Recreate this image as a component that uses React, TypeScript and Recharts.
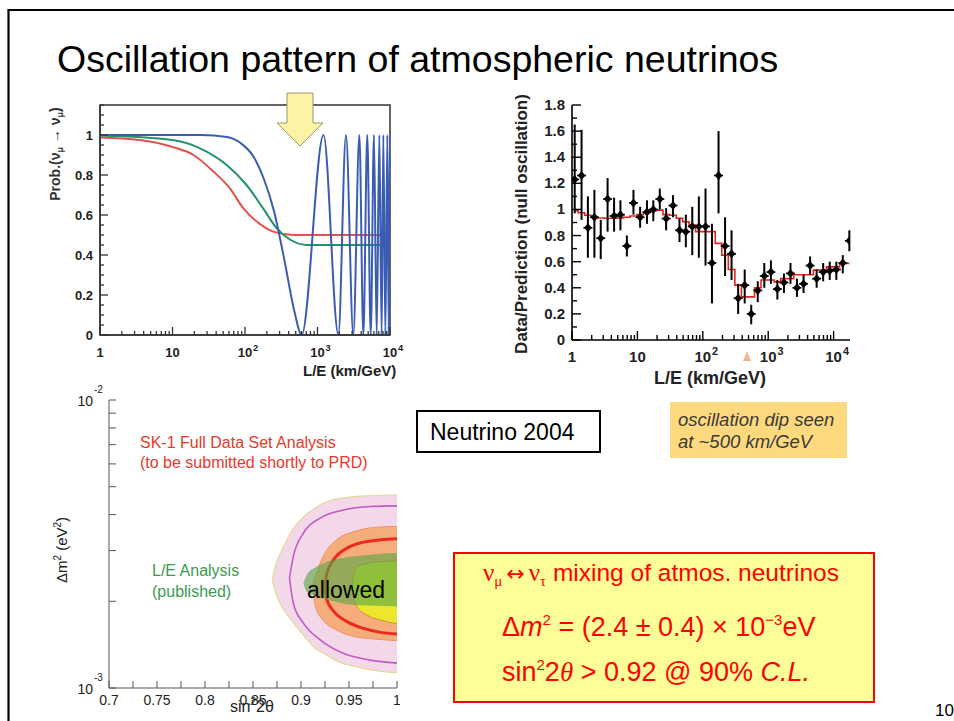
import React from "react";
import {
  Area,
  ComposedChart,
  ErrorBar,
  Line,
  ReferenceArea,
  Scatter,
  XAxis,
  YAxis,
} from "recharts";

const FONT = '"Liberation Sans", Arial, Helvetica, sans-serif';
const SERIF = '"Liberation Serif", "Times New Roman", serif';

// ---------- shared log ticks ----------
const decades = [1, 10, 100, 1000, 10000];
const decadeLabels = ["1", "10", "10^2", "10^3", "10^4"];
const minorSteps = [2, 3, 4, 5, 6, 7, 8, 9];
const logTicks = (max: number) =>
  decades
    .flatMap((d) => [d, ...minorSteps.map((m) => m * d)])
    .filter((v) => v <= max);

// ---------- panel 1: survival probability vs L/E ----------
// [L/E, probability]
const probRed: [number, number][] = [
  [1, 0.987], [3.5, 0.975], [10, 0.94], [19.5, 0.9], [36, 0.82], [62, 0.733],
  [95, 0.633], [145, 0.567], [245, 0.517], [470, 0.5], [1500, 0.5], [10000, 0.5],
];
const probGreen: [number, number][] = [
  [1, 0.997], [10, 0.975], [29.5, 0.917], [56, 0.85], [105, 0.75], [178, 0.633],
  [275, 0.533], [427, 0.475], [724, 0.45], [2000, 0.45], [10000, 0.45],
];
const probBlue: [number, number][] = [
  [1, 1], [25, 1], [56, 0.99], [87, 0.96], [132, 0.89], [182, 0.78], [251, 0.62],
  [347, 0.38], [479, 0.12], [605, 0], [1210, 1], [1940, 0], [2470, 1], [3120, 0],
  [3780, 1], [4290, 0], [4860, 1], [5420, 0], [6010, 1], [6550, 0], [7130, 1],
  [7670, 0], [8090, 1], [8630, 0], [9190, 1], [9600, 0], [10000, 1],
];
const probMajorY = [0, 0.2, 0.4, 0.6, 0.8, 1];
const probLabelsY = ["0", "0.2", "0.4", "0.6", "0.8", "1"];
const probTicksY = Array.from({ length: 24 }, (_, i) => i * 0.05);

// ---------- panel 2: data / prediction ----------
const binLE = [
  1.1, 1.4, 1.75, 2.2, 2.75, 3.5, 4.4, 5.5, 6.9, 8.7, 11, 14, 17.5, 22, 27.5,
  35, 44, 55, 69, 87, 110, 138, 174, 219, 275, 347, 437, 550, 692, 871, 1100,
  1380, 1740, 2190, 2750, 3470, 4370, 5500, 6920, 8710, 11000, 13800, 17400,
];
const ratio = [
  1.23, 1.26, 0.86, 0.94, 0.78, 1.08, 0.95, 0.96, 0.72, 1.05, 0.94, 0.98, 1.0,
  1.08, 0.93, 1.03, 0.84, 0.83, 0.87, 0.87, 0.87, 0.59, 1.26, 0.72, 0.66, 0.32,
  0.42, 0.2, 0.38, 0.49, 0.52, 0.39, 0.44, 0.51, 0.4, 0.43, 0.57, 0.47, 0.52,
  0.53, 0.54, 0.59, 0.76,
];
const ratioLo = [
  0.97, 0.92, 0.63, 0.63, 0.62, 0.83, 0.83, 0.84, 0.64, 0.96, 0.86, 0.89, 0.91,
  1.0, 0.84, 0.94, 0.75, 0.71, 0.65, 0.63, 0.57, 0.28, 0.97, 0.49, 0.46, 0.2,
  0.28, 0.12, 0.29, 0.4, 0.43, 0.31, 0.36, 0.43, 0.33, 0.36, 0.5, 0.4, 0.45,
  0.46, 0.46, 0.51, 0.68,
];
const ratioHi = [
  1.65, 1.61, 1.1, 1.15, 0.92, 1.24, 1.09, 1.07, 0.8, 1.15, 1.02, 1.07, 1.07,
  1.16, 1.01, 1.11, 0.93, 0.96, 1.02, 1.1, 1.16, 0.89, 1.6, 0.94, 0.84, 0.43,
  0.54, 0.27, 0.45, 0.59, 0.61, 0.46, 0.51, 0.59, 0.47, 0.5, 0.64, 0.54, 0.59,
  0.6, 0.6, 0.65, 0.84,
];
const prediction = [
  0.99, 0.975, 0.955, 0.94, 0.935, 0.932, 0.932, 0.935, 0.94, 0.95, 0.96, 0.975,
  0.99, 0.995, 0.96, 0.955, 0.932, 0.906, 0.88, 0.83, 0.83, 0.83, 0.74, 0.65,
  0.54, 0.42, 0.33, 0.33, 0.4, 0.46, 0.46, 0.445, 0.47, 0.47, 0.5, 0.5, 0.5,
  0.535, 0.535, 0.56, 0.56, 0.587, 0.587,
];
const ratioMajorY = [0, 0.2, 0.4, 0.6, 0.8, 1, 1.2, 1.4, 1.6, 1.8];
const ratioLabelsY = ["0", "0.2", "0.4", "0.6", "0.8", "1", "1.2", "1.4", "1.6", "1.8"];
const ratioTicksY = Array.from({ length: 19 }, (_, i) => i * 0.1);
const ratioMaxLE = 17800;

const ratioRows = binLE.map((le, i) => ({
  le,
  ratio: ratio[i],
  err: [ratio[i] - ratioLo[i], ratioHi[i] - ratio[i]],
  pred: prediction[i],
}));

// ---------- panel 3: allowed region (dm2 in 1e-3 eV^2) ----------
const pinkX = [0.87, 0.874, 0.88, 0.89, 0.903, 0.915, 0.927, 0.94, 0.955, 0.97, 0.985, 1.0];
const pinkLo = [2.36, 2.12, 1.92, 1.72, 1.52, 1.37, 1.3, 1.23, 1.19, 1.16, 1.14, 1.13];
const pinkHi = [2.36, 2.7, 3.0, 3.5, 3.94, 4.22, 4.44, 4.55, 4.62, 4.65, 4.67, 4.68];

const magentaX = [0.888, 0.892, 0.9025, 0.92, 0.944, 0.972, 1.0];
const magentaLo = [2.41, 1.97, 1.68, 1.47, 1.32, 1.25, 1.22];
const magentaHi = [2.41, 2.86, 3.45, 3.89, 4.15, 4.27, 4.29];

const orangeX = [0.912, 0.915, 0.923, 0.937, 0.955, 0.976, 1.0];
const orangeLo = [2.25, 1.92, 1.72, 1.59, 1.51, 1.48, 1.46];
const orangeHi = [2.25, 2.44, 2.86, 3.27, 3.49, 3.61, 3.64];

const redX = [0.925, 0.927, 0.934, 0.948, 0.965, 0.983, 1.0];
const redLo = [2.25, 2.02, 1.85, 1.7, 1.61, 1.56, 1.54];
const redHi = [2.25, 2.51, 2.79, 3.06, 3.21, 3.27, 3.3];

const yellowX = [0.953, 0.958, 0.969, 0.983, 1.0];
const yellowLo = [2.25, 1.92, 1.79, 1.72, 1.67];
const yellowHi = [2.25, 2.64, 2.71, 2.75, 2.76];

const greenX = [0.9025, 0.906, 0.9165, 0.934, 0.955, 0.979, 1.0];
const greenLo = [2.31, 2.16, 2.08, 2.0, 1.94, 1.93, 1.92];
const greenHi = [2.31, 2.47, 2.64, 2.79, 2.86, 2.92, 2.94];

const mixTicksX = [0.7, 0.725, 0.75, 0.775, 0.8, 0.825, 0.85, 0.875, 0.9, 0.925, 0.95, 0.975, 1.0];
const mixMajorX = [0.7, 0.75, 0.8, 0.85, 0.9, 0.95, 1.0];
const mixLabelsX = ["0.7", "0.75", "0.8", "0.85", "0.9", "0.95", "1"];
const dmTicks = [0.001, 0.002, 0.003, 0.004, 0.005, 0.006, 0.007, 0.008, 0.009, 0.01];
const dmMajor = [0.001, 0.01];
const dmLabels = ["-3", "-2"];

const toPoints = (pts: [number, number][]) => pts.map(([x, p]) => ({ x, p }));
const toBand = (xs: number[], lo: number[], hi: number[]) =>
  xs.map((x, i) => ({ x, band: [lo[i] * 1e-3, hi[i] * 1e-3] }));

const near = (list: number[], v: number) =>
  list.findIndex((m) => Math.abs(m - v) <= Math.abs(m) * 1e-6 + 1e-9);

// ---------- tick renderers ----------
function PowLabel({ x, y, text, size, bold }: { x: number; y: number; text: string; size: number; bold?: boolean }) {
  const [base, exp] = text.split("^");
  const common = { fontFamily: FONT, fontWeight: bold ? 700 : 400, fill: "#222" };
  if (!exp) {
    return (
      <text x={x} y={y} textAnchor="middle" fontSize={size} {...common}>
        {base}
      </text>
    );
  }
  return (
    <g>
      <text x={x} y={y} textAnchor="middle" fontSize={size} {...common}>
        {base}
      </text>
      <text x={x + size * 0.62} y={y - size * 0.45} fontSize={size * 0.72} {...common}>
        {exp}
      </text>
    </g>
  );
}

const probXTick = (p: any) => {
  const { x, y, payload } = p;
  const i = decades.indexOf(payload.value);
  return (
    <g>
      <line x1={x} x2={x} y1={y} y2={y - (i >= 0 ? 8 : 4)} stroke="#333" strokeWidth={1.3} />
      {i >= 0 && <PowLabel x={x} y={y + 22} text={decadeLabels[i]} size={13} bold />}
    </g>
  );
};

const probYTick = (p: any) => {
  const { x, y, payload } = p;
  const i = near(probMajorY, payload.value);
  return (
    <g>
      <line x1={x} x2={x + (i >= 0 ? 8 : 4)} y1={y} y2={y} stroke="#333" strokeWidth={1.3} />
      {i >= 0 && (
        <text x={x - 7} y={y + 4.5} textAnchor="end" fontSize={13} fontWeight={700} fontFamily={FONT} fill="#222">
          {probLabelsY[i]}
        </text>
      )}
    </g>
  );
};

const ratioXTick = (p: any) => {
  const { x, y, payload } = p;
  const i = decades.indexOf(payload.value);
  return (
    <g>
      <line x1={x} x2={x} y1={y} y2={y - (i >= 0 ? 9 : 5)} stroke="#000" strokeWidth={1.4} />
      {i >= 0 && <PowLabel x={x} y={y + 22} text={decadeLabels[i]} size={15} bold />}
    </g>
  );
};

const ratioTopTick = (p: any) => {
  const { x, y, payload } = p;
  const i = decades.indexOf(payload.value);
  return <line x1={x} x2={x} y1={y} y2={y + (i >= 0 ? 9 : 5)} stroke="#000" strokeWidth={1.4} />;
};

const ratioYTick = (p: any) => {
  const { x, y, payload } = p;
  const i = near(ratioMajorY, payload.value);
  return (
    <g>
      <line x1={x} x2={x + (i >= 0 ? 9 : 5)} y1={y} y2={y} stroke="#000" strokeWidth={1.4} />
      {i >= 0 && (
        <text x={x - 7} y={y + 5} textAnchor="end" fontSize={15} fontWeight={700} fontFamily={FONT} fill="#222">
          {ratioLabelsY[i]}
        </text>
      )}
    </g>
  );
};

const ratioRightTick = (p: any) => {
  const { x, y, payload } = p;
  const i = near(ratioMajorY, payload.value);
  return <line x1={x} x2={x - (i >= 0 ? 9 : 5)} y1={y} y2={y} stroke="#000" strokeWidth={1.4} />;
};

const mixXTick = (p: any) => {
  const { x, y, payload } = p;
  const i = near(mixMajorX, payload.value);
  return (
    <g>
      <line x1={x} x2={x} y1={y} y2={y - 7} stroke="#555" strokeWidth={1} />
      {i >= 0 && (
        <text x={x} y={y + 17} textAnchor="middle" fontSize={14} fontFamily={FONT} fill="#222">
          {mixLabelsX[i]}
        </text>
      )}
    </g>
  );
};

const dmYTick = (p: any) => {
  const { x, y, payload } = p;
  const i = near(dmMajor, payload.value);
  return (
    <g>
      <line x1={x} x2={x + 7} y1={y} y2={y} stroke="#555" strokeWidth={1} />
      {i >= 0 && (
        <g fontFamily={FONT} fill="#222">
          <text x={x - 16} y={y + 6} textAnchor="end" fontSize={14}>10</text>
          <text x={x - 15} y={y - 7} fontSize={10}>{dmLabels[i]}</text>
        </g>
      )}
    </g>
  );
};

const dmRightTick = (p: any) => {
  const { x, y } = p;
  return <line x1={x} x2={x - 4} y1={y} y2={y} stroke="#555" strokeWidth={1} />;
};

const Diamond = (p: any) => {
  const { cx, cy } = p;
  if (cx == null || cy == null) return <g />;
  return (
    <g>
      <line x1={cx - 4.5} x2={cx + 4.5} y1={cy} y2={cy} stroke="#000" strokeWidth={1.6} />
      <path d={`M${cx},${cy - 4.5}L${cx + 3.8},${cy}L${cx},${cy + 4.5}L${cx - 3.8},${cy}Z`} fill="#000" />
    </g>
  );
};

// ---------- panels ----------
function ProbPanel() {
  return (
    <ComposedChart width={370} height={290} margin={{ top: 15, right: 20, bottom: 0, left: 0 }}>
      <XAxis
        dataKey="x"
        type="number"
        scale="log"
        domain={[1, 10000]}
        allowDataOverflow
        ticks={logTicks(10000)}
        interval={0}
        tick={probXTick}
        tickLine={false}
        tickSize={0}
        tickMargin={0}
        height={45}
        axisLine={{ stroke: "#333", strokeWidth: 1.5 }}
      />
      <YAxis
        type="number"
        domain={[0, 1.15]}
        allowDataOverflow
        ticks={probTicksY}
        interval={0}
        tick={probYTick}
        tickLine={false}
        tickSize={0}
        tickMargin={0}
        width={60}
        axisLine={{ stroke: "#333", strokeWidth: 1.5 }}
      />
      <ReferenceArea x1={1} x2={10000} y1={0} y2={1.15} fill="none" stroke="#333" strokeWidth={1.5} />
      <Line data={toPoints(probRed)} dataKey="p" type="monotone" stroke="#e5504c" strokeWidth={2} dot={false} activeDot={false} isAnimationActive={false} />
      <Line data={toPoints(probGreen)} dataKey="p" type="monotone" stroke="#23936a" strokeWidth={2} dot={false} activeDot={false} isAnimationActive={false} />
      <Line data={toPoints(probBlue)} dataKey="p" type="monotone" stroke="#3a5db3" strokeWidth={2} dot={false} activeDot={false} isAnimationActive={false} />
    </ComposedChart>
  );
}

function RatioPanel() {
  return (
    <ComposedChart width={360} height={300} data={ratioRows} margin={{ top: 15, right: 15, bottom: 0, left: 0 }}>
      <XAxis
        dataKey="le"
        type="number"
        scale="log"
        domain={[1, ratioMaxLE]}
        allowDataOverflow
        ticks={logTicks(ratioMaxLE)}
        interval={0}
        tick={ratioXTick}
        tickLine={false}
        tickSize={0}
        tickMargin={0}
        height={50}
        axisLine={{ stroke: "#000", strokeWidth: 1.6 }}
      />
      <XAxis
        xAxisId="top"
        orientation="top"
        type="number"
        scale="log"
        domain={[1, ratioMaxLE]}
        allowDataOverflow
        ticks={logTicks(ratioMaxLE)}
        interval={0}
        tick={ratioTopTick}
        tickLine={false}
        tickSize={0}
        tickMargin={0}
        height={0}
        axisLine={{ stroke: "#000", strokeWidth: 1.6 }}
      />
      <YAxis
        type="number"
        domain={[0, 1.8]}
        allowDataOverflow
        ticks={ratioTicksY}
        interval={0}
        tick={ratioYTick}
        tickLine={false}
        tickSize={0}
        tickMargin={0}
        width={67}
        axisLine={{ stroke: "#000", strokeWidth: 1.6 }}
      />
      <YAxis
        yAxisId="right"
        orientation="right"
        type="number"
        domain={[0, 1.8]}
        allowDataOverflow
        ticks={ratioTicksY}
        interval={0}
        tick={ratioRightTick}
        tickLine={false}
        tickSize={0}
        tickMargin={0}
        width={0}
        axisLine={{ stroke: "#000", strokeWidth: 1.6 }}
      />
      <Line dataKey="pred" type="step" stroke="#e3241b" strokeWidth={1.6} dot={false} activeDot={false} isAnimationActive={false} />
      <Scatter dataKey="ratio" shape={Diamond} isAnimationActive={false}>
        <ErrorBar dataKey="err" direction="y" width={0} stroke="#000" strokeWidth={2} isAnimationActive={false} />
      </Scatter>
    </ComposedChart>
  );
}

function MixingPanel() {
  const bandArea = (key: string, data: any[], fill: string, stroke: string, sw: number, opacity = 1) => (
    <Area
      key={key}
      data={data}
      dataKey="band"
      type="monotone"
      fill={fill}
      fillOpacity={opacity}
      stroke={stroke}
      strokeWidth={sw}
      dot={false}
      activeDot={false}
      isAnimationActive={false}
    />
  );
  return (
    <ComposedChart width={340} height={341} margin={{ top: 20, right: 3, bottom: 0, left: 0 }}>
      <XAxis
        dataKey="x"
        type="number"
        domain={[0.7, 1]}
        allowDataOverflow
        ticks={mixTicksX}
        interval={0}
        tick={mixXTick}
        tickLine={false}
        tickSize={0}
        tickMargin={0}
        height={33}
        axisLine={{ stroke: "#555", strokeWidth: 1 }}
      />
      <YAxis
        type="number"
        scale="log"
        domain={[0.001, 0.01]}
        allowDataOverflow
        ticks={dmTicks}
        interval={0}
        tick={dmYTick}
        tickLine={false}
        tickSize={0}
        tickMargin={0}
        width={49}
        axisLine={{ stroke: "#555", strokeWidth: 1 }}
      />
      <YAxis
        yAxisId="right"
        orientation="right"
        type="number"
        scale="log"
        domain={[0.001, 0.01]}
        allowDataOverflow
        ticks={dmTicks}
        interval={0}
        tick={dmRightTick}
        tickLine={false}
        tickSize={0}
        tickMargin={0}
        width={0}
        axisLine={{ stroke: "#555", strokeWidth: 1 }}
      />
      {bandArea("pink", toBand(pinkX, pinkLo, pinkHi), "#f3d8ea", "#e2da98", 1.2)}
      {bandArea("magenta", toBand(magentaX, magentaLo, magentaHi), "none", "#c35bc2", 1.6)}
      {bandArea("orange", toBand(orangeX, orangeLo, orangeHi), "#f6ad7c", "#f39068", 1)}
      {bandArea("red", toBand(redX, redLo, redHi), "none", "#ec2a1e", 3)}
      {bandArea("yellow", toBand(yellowX, yellowLo, yellowHi), "#ece62f", "#d98c3a", 1)}
      {bandArea("green", toBand(greenX, greenLo, greenHi), "#57a746", "none", 0, 0.62)}
    </ComposedChart>
  );
}

export default function App() {
  return (
    <div
      style={{
        position: "absolute",
        left: 0,
        top: 0,
        width: 954,
        height: 721,
        overflow: "hidden",
        background: "#fff",
        fontFamily: FONT,
      }}
    >
      <svg width={954} height={721} style={{ position: "absolute", left: 0, top: 0 }}>
        <path d="M8.5,721 V10 H954" fill="none" stroke="#000" strokeWidth={2.2} />
        <rect x={417} y={411} width={183} height={41} fill="#fff" stroke="#000" strokeWidth={2} />
        <rect x={670} y={402} width={177} height={56} fill="#ffd97d" />
        <rect x={454} y={553} width={420} height={149} fill="#ffff99" stroke="#ff0000" strokeWidth={2} />
      </svg>

      <div style={{ position: "absolute", left: 40, top: 90 }}>
        <ProbPanel />
      </div>
      <div style={{ position: "absolute", left: 505, top: 90 }}>
        <RatioPanel />
      </div>
      <div style={{ position: "absolute", left: 60, top: 380 }}>
        <MixingPanel />
      </div>

      <svg width={954} height={721} style={{ position: "absolute", left: 0, top: 0, pointerEvents: "none" }} fontFamily={FONT}>
        <text x={57} y={72} fontSize={37.5} fill="#000">
          Oscillation pattern of atmospheric neutrinos
        </text>

        {/* panel 1 decorations */}
        <polygon
          points="287,93 313,93 313,123 323,123 300,146 277,123 287,123"
          fill="#fcf3a4"
          stroke="#9b9670"
          strokeWidth={1}
        />
        <text transform="translate(60,154) rotate(-90)" textAnchor="middle" fontSize={14} fontWeight={700} fill="#333">
          Prob.(ν<tspan fontSize={9} dy={3}>μ</tspan>
          <tspan dy={-3}> → ν</tspan>
          <tspan fontSize={9} dy={3}>μ</tspan>
          <tspan dy={-3}>)</tspan>
        </text>
        <text x={303} y={376} fontSize={15} fontWeight={700} fill="#222">
          L/E (km/GeV)
        </text>

        {/* panel 2 decorations */}
        <text transform="translate(527,224) rotate(-90)" textAnchor="middle" fontSize={17} fontWeight={700} fill="#222">
          Data/Prediction (null oscillation)
        </text>
        <text x={710} y={384} textAnchor="middle" fontSize={18} fontWeight={700} fill="#222">
          L/E (km/GeV)
        </text>
        <polygon points="747,351 751,361 743,361" fill="#f4b29b" />

        {/* panel 3 decorations */}
        <text transform="translate(67,550) rotate(-90)" textAnchor="middle" fontSize={15} fill="#222">
          Δm<tspan fontSize={10} dy={-6}>2</tspan>
          <tspan dy={6}> (eV</tspan>
          <tspan fontSize={10} dy={-6}>2</tspan>
          <tspan dy={6}>)</tspan>
        </text>
        <text x={140} y={448} fontSize={16} fill="#e8392c">
          SK-1 Full Data Set Analysis
        </text>
        <text x={140} y={468} fontSize={16} fill="#e8392c">
          (to be submitted shortly to PRD)
        </text>
        <text x={152} y={576} fontSize={16} fill="#3b9a50">
          L/E Analysis
        </text>
        <text x={152} y={597} fontSize={16} fill="#3b9a50">
          (published)
        </text>
        <text x={307} y={598} fontSize={23} fill="#000">
          allowed
        </text>
        <text x={230} y={712} fontSize={16} fill="#222">
          sin<tspan fontSize={10} dy={-7}>2</tspan>
          <tspan dy={7}>2θ</tspan>
        </text>

        {/* boxes */}
        <text x={430} y={440} fontSize={23} fill="#000">
          Neutrino 2004
        </text>
        <text x={678} y={426} fontSize={18.5} fontStyle="italic" fill="#3a3a3a">
          oscillation dip seen
        </text>
        <text x={678} y={448} fontSize={18.5} fontStyle="italic" fill="#3a3a3a">
          at ~500 km/GeV
        </text>

        <text x={483} y={581} fontSize={24.5} fill="#ff0000">
          <tspan fontFamily={SERIF} fontSize={25}>ν</tspan>
          <tspan fontFamily={SERIF} fontSize={15} dy={5}>μ</tspan>
          <tspan dy={-5} dx={4} fontFamily='"DejaVu Sans", sans-serif' fontSize={22}>↔</tspan>
          <tspan dx={4} fontFamily={SERIF} fontSize={25}>ν</tspan>
          <tspan fontFamily={SERIF} fontSize={15} dy={5}>τ</tspan>
          <tspan dy={-5}> mixing of atmos. neutrinos</tspan>
        </text>
        <text x={502} y={636} fontSize={27} fill="#ff0000">
          Δ<tspan fontStyle="italic">m</tspan>
          <tspan fontSize={15} dy={-11}>2</tspan>
          <tspan dy={11}> = (2.4 ± 0.4) × 10</tspan>
          <tspan fontSize={15} dy={-11}>−3</tspan>
          <tspan dy={11}>eV</tspan>
        </text>
        <text x={502} y={681} fontSize={27} fill="#ff0000">
          sin<tspan fontSize={15} dy={-11}>2</tspan>
          <tspan dy={11}>2</tspan>
          <tspan fontFamily={SERIF} fontStyle="italic">θ</tspan>
          <tspan> &gt; 0.92 @ 90% </tspan>
          <tspan fontStyle="italic">C.L.</tspan>
        </text>

        <text x={935} y={716} fontSize={17} fill="#000">
          10
        </text>
      </svg>
    </div>
  );
}
